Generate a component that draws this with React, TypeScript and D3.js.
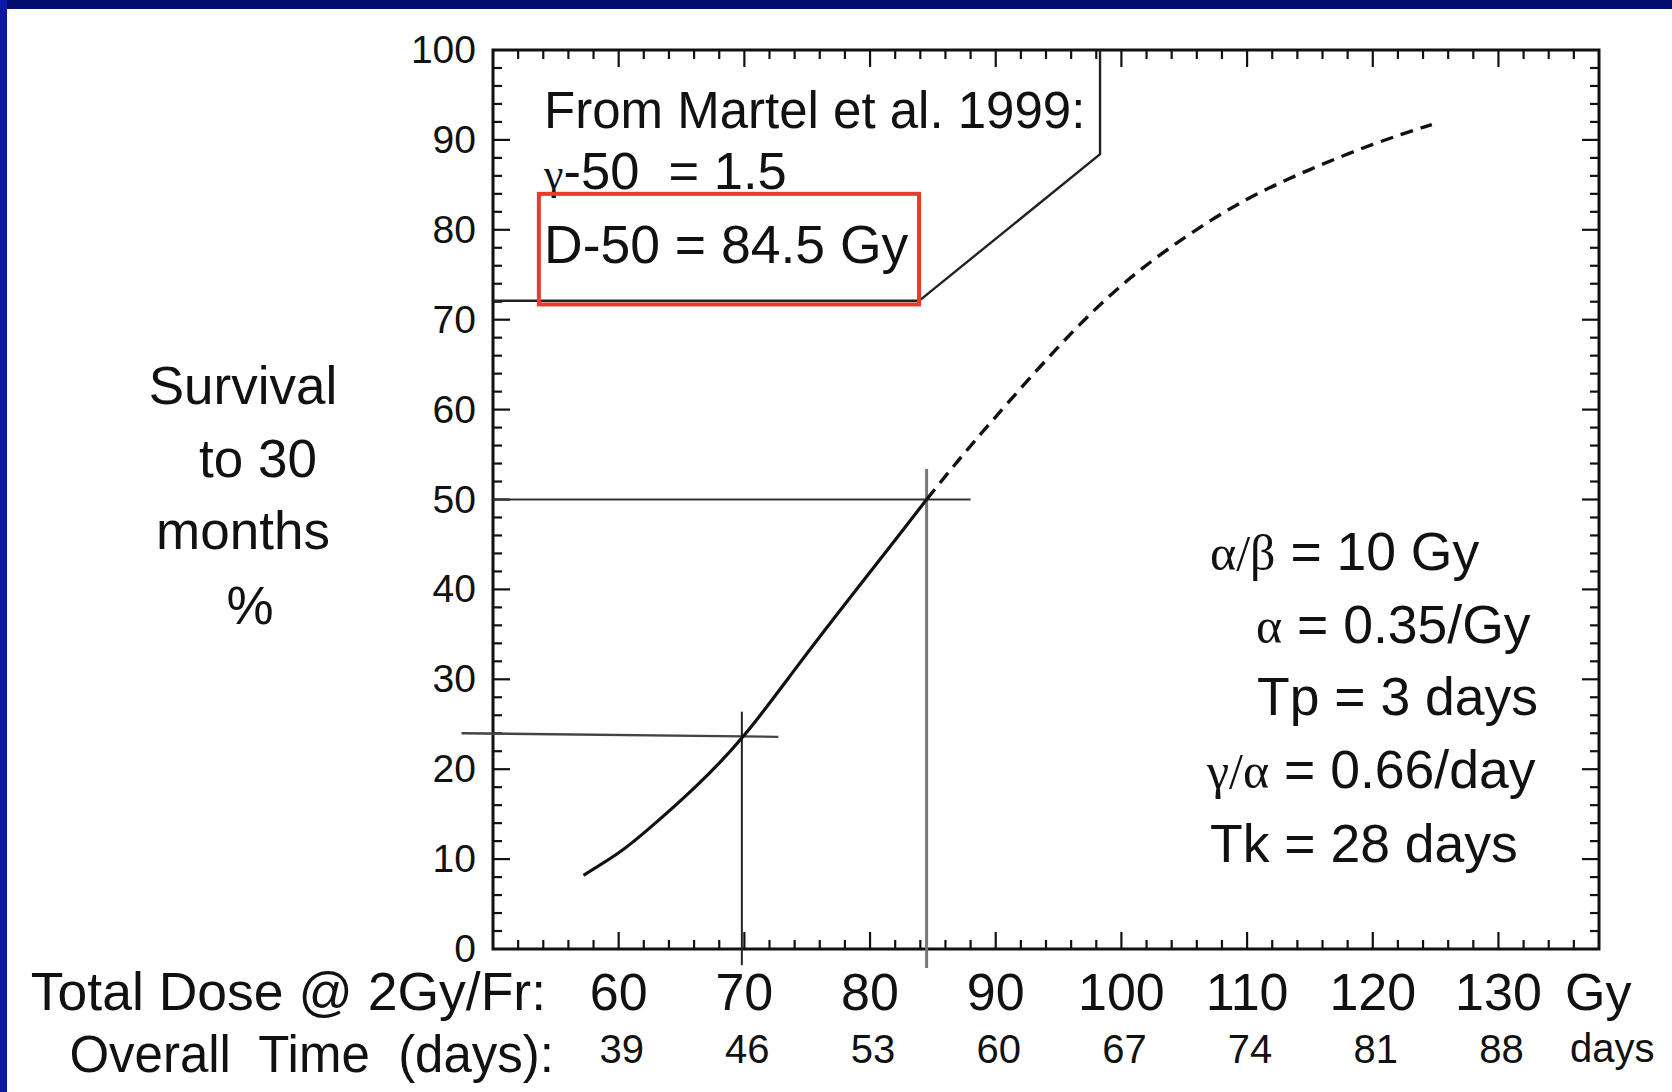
import React from 'react';
import * as d3 from 'd3';

// ---------- data ----------
const doseTicks = [60, 70, 80, 90, 100, 110, 120, 130];
const dayLabels = ['39', '46', '53', '60', '67', '74', '81', '88'];
const survTicks = [0, 10, 20, 30, 40, 50, 60, 70, 80, 90, 100];

const solidDose = [57.2, 60.0, 62.5, 66.0, 70.0, 74.4, 78.7, 82.0, 84.5];
const solidSurv = [8.2, 10.7, 13.5, 17.9, 23.8, 31.8, 39.6, 45.5, 50.0];

const dashedDose = [84.5, 87.0, 90.0, 95.0, 100.0, 105.0, 110.0, 115.0, 120.0, 124.7];
const dashedSurv = [50.0, 54.3, 59.2, 67.0, 73.8, 79.1, 83.4, 86.7, 89.5, 91.7];

// reference cross-hairs (dose, survival)
const d50 = [84.5, 50];
const d70 = [69.8, 23.8];

const paramLines = [
  [['g', 'α/β'], ['s', ' = 10 Gy']],
  [['g', 'α'], ['s', ' = 0.35/Gy']],
  [['s', 'Tp = 3 days']],
  [['g', 'γ/α'], ['s', ' = 0.66/day']],
  [['s', 'Tk = 28 days']],
];

// ---------- layout ----------
const W = 1672;
const H = 1092;
const SANS = '"Liberation Sans", Arial, Helvetica, sans-serif';
const SERIF = '"Liberation Serif", "Times New Roman", serif';
const paramX = [1210, 1256, 1257, 1207, 1210];
const paramY = [570, 643, 715, 788, 862];

export default function App() {
  const x = d3.scaleLinear().domain([50, 138]).range([493, 1599]);
  const y = d3.scaleLinear().domain([0, 100]).range([949, 50]);
  const [x0, x1] = x.range();
  const [y0, y1] = y.range();

  const line = d3
    .line<[number, number]>()
    .x((d) => x(d[0]))
    .y((d) => y(d[1]))
    .curve(d3.curveNatural);

  const solid = line(solidDose.map((d, i) => [d, solidSurv[i]] as [number, number])) || '';
  const dashed = line(dashedDose.map((d, i) => [d, dashedSurv[i]] as [number, number])) || '';

  const xMinor = d3.range(52, 138, 2).filter((v) => v % 10 !== 0);
  const xMajor = d3.range(60, 131, 10);
  const yMinor = d3.range(2, 100, 2).filter((v) => v % 10 !== 0);
  const yMajor = d3.range(10, 100, 10);
  const MAJ = 17;
  const MIN = 9;

  const callout: [number, number][] = [
    [50, 72.1],
    [83.9, 72.1],
    [98.3, 88.4],
    [98.3, 100],
  ];
  const calloutPath = d3.line<[number, number]>().x((d) => x(d[0])).y((d) => y(d[1]))(callout) || '';

  return (
    <svg
      width={W}
      height={H}
      viewBox={`0 0 ${W} ${H}`}
      style={{ position: 'absolute', left: 0, top: 0, background: '#fff' }}
      fontFamily={SANS}
    >
      <rect x={0} y={0} width={W} height={H} fill="#ffffff" />
      {/* slide border */}
      <rect x={0} y={0} width={W} height={9} fill="#000d6b" />
      <rect x={0} y={0} width={7} height={H} fill="#0a1aa6" />

      {/* ticks */}
      <g stroke="#111" strokeWidth={2.2}>
        {xMinor.map((v) => (
          <g key={'xm' + v}>
            <line x1={x(v)} x2={x(v)} y1={y0} y2={y0 - MIN} />
            <line x1={x(v)} x2={x(v)} y1={y1} y2={y1 + MIN} />
          </g>
        ))}
        {xMajor.map((v) => (
          <g key={'xM' + v}>
            <line x1={x(v)} x2={x(v)} y1={y0} y2={y0 - MAJ} />
            <line x1={x(v)} x2={x(v)} y1={y1} y2={y1 + MAJ} />
          </g>
        ))}
        {yMinor.map((v) => (
          <g key={'ym' + v}>
            <line x1={x0} x2={x0 + MIN} y1={y(v)} y2={y(v)} />
            <line x1={x1} x2={x1 - MIN} y1={y(v)} y2={y(v)} />
          </g>
        ))}
        {yMajor.map((v) => (
          <g key={'yM' + v}>
            <line x1={x0} x2={x0 + MAJ} y1={y(v)} y2={y(v)} />
            <line x1={x1} x2={x1 - MAJ} y1={y(v)} y2={y(v)} />
          </g>
        ))}
      </g>

      {/* frame */}
      <rect x={x0} y={y1} width={x1 - x0} height={y0 - y1} fill="none" stroke="#111" strokeWidth={3} />

      {/* callout */}
      <path d={calloutPath} fill="none" stroke="#222" strokeWidth={2.4} />

      {/* cross-hairs */}
      <line x1={x(50)} x2={x(88.0)} y1={y(d50[1])} y2={y(d50[1])} stroke="#333" strokeWidth={2} />
      <line x1={x(d50[0])} x2={x(d50[0])} y1={y(53.4)} y2={y(-2.1)} stroke="#777" strokeWidth={3} />
      <line x1={x(47.5)} x2={x(72.7)} y1={y(d70[1] + 0.2)} y2={y(d70[1] - 0.2)} stroke="#444" strokeWidth={2.4} />
      <line x1={x(d70[0])} x2={x(d70[0])} y1={y(26.4)} y2={y(-1.8)} stroke="#222" strokeWidth={2} />

      {/* curves */}
      <path d={solid} fill="none" stroke="#111" strokeWidth={3.2} />
      <path d={dashed} fill="none" stroke="#111" strokeWidth={3.4} strokeDasharray="13 8" />

      {/* y tick labels */}
      <g fontSize={39} textAnchor="end" fill="#111">
        {survTicks.map((v) => (
          <text key={'yl' + v} x={476} y={y(v) + 13}>
            {v}
          </text>
        ))}
      </g>

      {/* x tick labels */}
      <g fontSize={52} textAnchor="middle" fill="#111">
        {doseTicks.map((v) => (
          <text key={'xl' + v} x={x(v)} y={1010}>
            {v}
          </text>
        ))}
      </g>
      <text x={1565} y={1010} fontSize={52} fill="#111">Gy</text>
      <g fontSize={40} textAnchor="middle" fill="#111">
        {dayLabels.map((d, i) => (
          <text key={'dl' + d} x={x(doseTicks[i]) + 3} y={1063}>
            {d}
          </text>
        ))}
      </g>
      <text x={1570} y={1062} fontSize={40} fill="#111">days</text>

      <text x={546} y={1010} fontSize={53.5} textAnchor="end" fill="#111">Total Dose @ 2Gy/Fr:</text>
      <text x={554} y={1072} fontSize={51} textAnchor="end" fill="#111" style={{ whiteSpace: 'pre' }}>
        {'Overall  Time  (days):'}
      </text>

      {/* y title */}
      <g fontSize={53} textAnchor="middle" fill="#111">
        <text x={243} y={404}>Survival</text>
        <text x={258} y={477}>to 30</text>
        <text x={243} y={549}>months</text>
        <text x={250} y={624}>%</text>
      </g>

      {/* annotation box */}
      <g fill="#111">
        <text x={544} y={128} fontSize={51}>From Martel et al. 1999:</text>
        <text x={544} y={189} fontSize={52.5} style={{ whiteSpace: 'pre' }}>
          <tspan fontFamily={SERIF} fontSize={44}>γ</tspan>
          <tspan>{'-50  = 1.5'}</tspan>
        </text>
        <text x={544} y={263} fontSize={53.5}>D-50 = 84.5 Gy</text>
      </g>
      <rect
        x={x(53.65)}
        y={y(84.0)}
        width={x(83.9) - x(53.65)}
        height={y(71.7) - y(84.0)}
        fill="none"
        stroke="#ea3a2c"
        strokeWidth={4}
      />

      {/* model parameters */}
      <g fontSize={53.5} fill="#111">
        {paramLines.map((segs, i) => (
          <text key={'p' + i} x={paramX[i]} y={paramY[i]} style={{ whiteSpace: 'pre' }}>
            {segs.map((s, j) =>
              s[0] === 'g' ? (
                <tspan key={j} fontFamily={SERIF} fontSize={50}>
                  {s[1]}
                </tspan>
              ) : (
                <tspan key={j}>{s[1]}</tspan>
              )
            )}
          </text>
        ))}
      </g>
    </svg>
  );
}
